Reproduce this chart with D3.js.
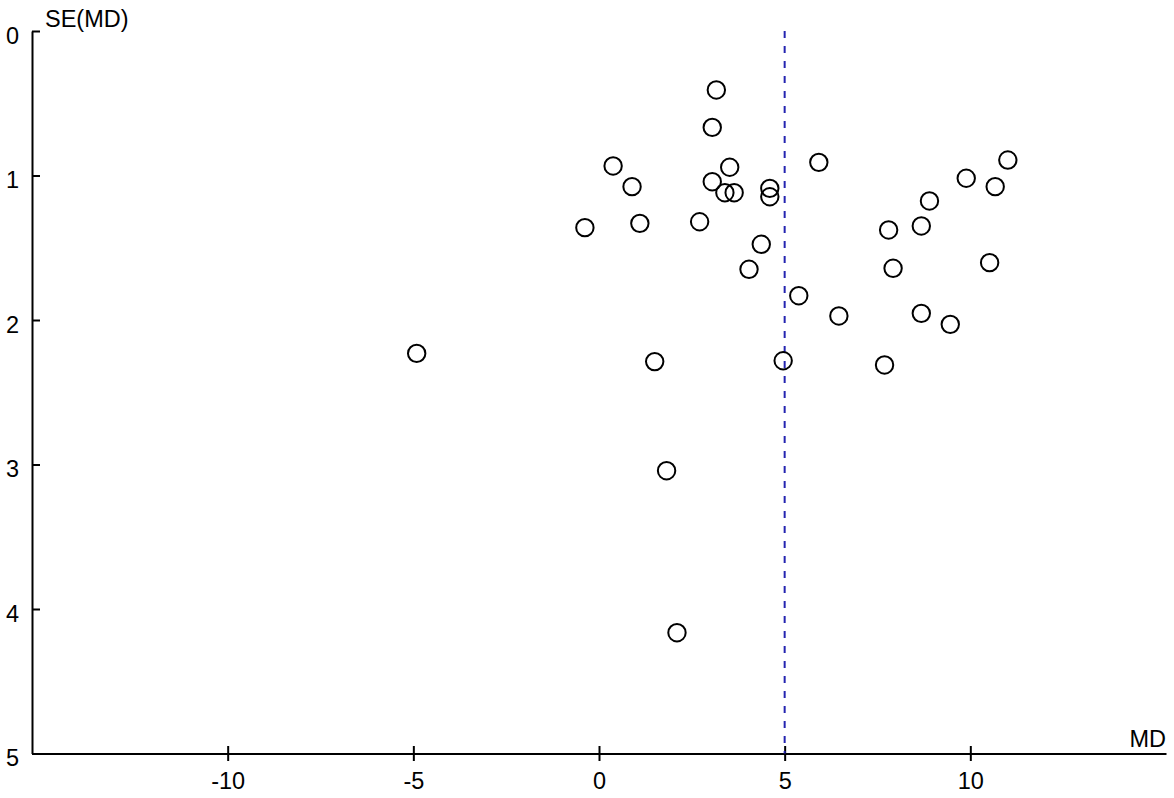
<!DOCTYPE html>
<html>
<head>
<meta charset="utf-8">
<script src="https://cdn.jsdelivr.net/npm/d3@7"></script>
<style>
  html, body { margin: 0; padding: 0; background: #fff; }
  svg { display: block; }
  text { font-family: "Liberation Sans", Arial, Helvetica, sans-serif; fill: #000; }
</style>
</head>
<body>
<svg id="chart" width="1174" height="798"></svg>
<script>
// Study mean differences (MD) and their standard errors SE(MD)
const md = [3.16, 3.05, 0.38, 3.52, 5.92, 11.01, 9.89, 10.67, 0.89, 3.05,
            3.39, 3.64, 4.60, 4.60, 8.90, -0.38, 1.10, 2.71, 7.80, 8.68,
            4.37, 4.04, 7.92, 10.52, 5.38, 6.46, 8.68, 9.46, -4.91, 1.50,
            4.96, 7.69, 1.82, 2.10];
const se = [0.408, 0.667, 0.934, 0.943, 0.909, 0.893, 1.019, 1.077, 1.077, 1.043,
            1.119, 1.119, 1.089, 1.147, 1.176, 1.361, 1.331, 1.320, 1.377, 1.349,
            1.476, 1.649, 1.642, 1.603, 1.832, 1.972, 1.954, 2.030, 2.231, 2.288,
            2.282, 2.311, 3.043, 4.164];
const pooledMD = [5.0];
const xTicks = [-10, -5, 0, 5, 10];
const yTicks = [0, 1, 2, 3, 4, 5];
const xDomain = [-15.27, 15.27];
const yDomain = [0, 5];
const xLabel = "MD";
const yLabel = "SE(MD)";

const svg = d3.select("#chart");
const x = d3.scaleLinear().domain(xDomain).range([32, 1166]);
const y = d3.scaleLinear().domain(yDomain).range([31, 753.5]);
const fontSize = 23.5;
const fmt = d => String(d); // plain hyphen-minus like the reference

// X axis
const xAxis = svg.append("g")
  .attr("transform", `translate(0,${y(5)})`)
  .call(d3.axisBottom(x).tickValues(xTicks).tickSizeInner(7.5).tickSizeOuter(0).tickPadding(11).tickFormat(fmt));
xAxis.select(".domain").attr("stroke", "#000").attr("stroke-width", 2);
xAxis.selectAll(".tick line").attr("y1", -7.5).attr("stroke", "#000").attr("stroke-width", 2);
xAxis.selectAll(".tick text").attr("font-size", fontSize).attr("font-family", "Liberation Sans, Arial, sans-serif").attr("fill", "#000");

// Y axis
const yAxis = svg.append("g")
  .attr("transform", `translate(${x(xDomain[0])},0)`)
  .call(d3.axisLeft(y).tickValues(yTicks).tickSizeInner(7).tickSizeOuter(0).tickPadding(6).tickFormat(fmt));
yAxis.select(".domain").attr("stroke", "#000").attr("stroke-width", 2);
yAxis.selectAll(".tick line").attr("x2", 8).attr("stroke", "#000").attr("stroke-width", 2);
yAxis.selectAll(".tick text").attr("font-size", fontSize).attr("font-family", "Liberation Sans, Arial, sans-serif").attr("fill", "#000").attr("dy", "0.52em");

// Axis titles
svg.append("text").attr("x", x(xDomain[0]) + 13).attr("y", 27)
  .attr("font-size", fontSize).text(yLabel);
svg.append("text").attr("x", x(xDomain[1])).attr("y", y(5) - 7)
  .attr("text-anchor", "end").attr("font-size", fontSize).text(xLabel);

// Pooled estimate dashed line
svg.selectAll("line.pooled").data(pooledMD).enter().append("line")
  .attr("class", "pooled")
  .attr("x1", d => x(d)).attr("x2", d => x(d))
  .attr("y1", y(0)).attr("y2", y(5))
  .attr("stroke", "#2424b0").attr("stroke-width", 2)
  .attr("stroke-dasharray", "7,8");

// Study points
const pts = md.map((m, i) => ({ m, s: se[i] }));
svg.selectAll("circle.study").data(pts).enter().append("circle")
  .attr("class", "study")
  .attr("cx", d => x(d.m)).attr("cy", d => y(d.s))
  .attr("r", 8.7)
  .attr("fill", "none").attr("stroke", "#000").attr("stroke-width", 2);
</script>
</body>
</html>
